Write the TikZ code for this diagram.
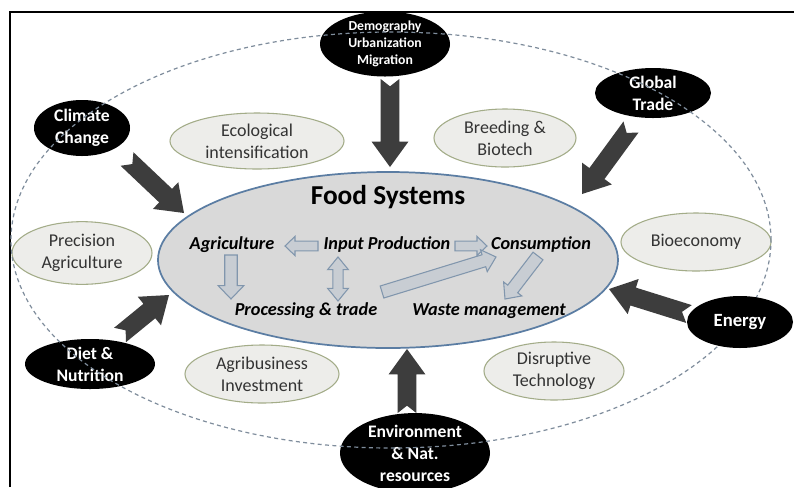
\documentclass[tikz,border=0pt]{standalone}
\usepackage{fontspec}
\setmainfont{Carlito}
\usetikzlibrary{shapes.geometric,calc}
\definecolor{ellborder}{HTML}{A3AC88}
\definecolor{ellfill}{HTML}{EDEDEA}
\definecolor{ellText}{HTML}{333333}
\definecolor{foodborder}{HTML}{5B7DA3}
\definecolor{foodfill}{HTML}{D9D9D9}
\definecolor{darkarrow}{HTML}{3D3D3D}
\definecolor{smallfill}{HTML}{C8CDD3}
\definecolor{smallborder}{HTML}{8196AD}
\definecolor{dashgrey}{HTML}{7F8D9C}
% block arrow: style, start, end, shaft half width, head half width, head length, notch depth
\newcommand\blockarr[7]{%
  \coordinate (ba-b) at ($(#3)!#6!(#2)$);
  \coordinate (ba-n) at ($(#2)!#7!(#3)$);
  \path[#1] ($(#2)!#4!90:(#3)$) -- ($(ba-b)!#4!90:(#3)$) -- ($(ba-b)!#5!90:(#3)$)
    -- (#3) -- ($(ba-b)!#5!-90:(#3)$) -- ($(ba-b)!#4!-90:(#3)$)
    -- ($(#2)!#4!-90:(#3)$) -- (ba-n) -- cycle;
}
% double-headed block arrow: style, A, B, shaft half width, head half width, head length
\newcommand\dblarr[6]{%
  \coordinate (da-a) at ($(#2)!#6!(#3)$);
  \coordinate (da-b) at ($(#3)!#6!(#2)$);
  \path[#1] (#2) -- ($(da-a)!#5!90:(#3)$) -- ($(da-a)!#4!90:(#3)$)
    -- ($(da-b)!#4!90:(#3)$) -- ($(da-b)!#5!90:(#3)$) -- (#3)
    -- ($(da-b)!#5!-90:(#3)$) -- ($(da-b)!#4!-90:(#3)$)
    -- ($(da-a)!#4!-90:(#3)$) -- ($(da-a)!#5!-90:(#3)$) -- cycle;
}
\begin{document}
\begin{tikzpicture}[x=0.75pt,y=-0.75pt,
  greyell/.style={ellipse, draw=ellborder, fill=ellfill, line width=0.8pt, inner sep=0pt,
    align=center, text=ellText, font=\fontsize{13.5}{16.5}\selectfont},
  blackell/.style={ellipse, fill=black, inner sep=0pt, align=center, text=white,
    font=\bfseries\fontsize{13.2}{16.5}\selectfont},
  foodell/.style={ellipse, draw=foodborder, fill=foodfill, line width=1.3pt, inner sep=0pt},
  innertext/.style={font=\bfseries\itshape\fontsize{13.7}{16}\selectfont, inner sep=0pt},
  bigarrow/.style={fill=darkarrow},
  smallarrow/.style={fill=smallfill, draw=smallborder, line width=0.8pt},
  outerdash/.style={draw=dashgrey, line width=0.9pt, dash pattern=on 3pt off 2.5pt},
]
\useasboundingbox[fill=white] (0,0) rectangle (794,487);
\draw[line width=1.1pt] (10,487) -- (10,12) -- (794,12);

% central ellipse
\node[foodell, minimum width=345pt, minimum height=132pt] (food) at (388,260) {};
\node[font=\bfseries\fontsize{20.5}{24}\selectfont, inner sep=0pt] (title) at (388,197) {Food Systems};
\node[innertext] (agr) at (232,245) {Agriculture};
\node[innertext] (inp) at (387,245) {Input Production};
\node[innertext] (con) at (541,245) {Consumption};
\node[innertext] (pro) at (306,311) {Processing \& trade};
\node[innertext] (was) at (489,311) {Waste management};

% small arrows inside
\coordinate (a1s) at (318,246); \coordinate (a1e) at (285,246);
\coordinate (a2s) at (455,246); \coordinate (a2e) at (487,246);
\coordinate (a3s) at (231,255); \coordinate (a3e) at (231,299);
\coordinate (a4s) at (338,257); \coordinate (a4e) at (338,301);
\coordinate (a5s) at (382,292); \coordinate (a5e) at (496,257);
\coordinate (a6s) at (538,256); \coordinate (a6e) at (505,299);
\blockarr{smallarrow}{a1s}{a1e}{3.6pt}{7.2pt}{7.5pt}{0pt}
\blockarr{smallarrow}{a2s}{a2e}{3.6pt}{7.2pt}{7.5pt}{0pt}
\blockarr{smallarrow}{a3s}{a3e}{4.7pt}{9.6pt}{10pt}{0pt}
\dblarr{smallarrow}{a4s}{a4e}{3.9pt}{7.8pt}{9.5pt}
\blockarr{smallarrow}{a5s}{a5e}{4.7pt}{8.6pt}{9.5pt}{0pt}
\blockarr{smallarrow}{a6s}{a6e}{4.7pt}{8.6pt}{9.5pt}{0pt}

% grey ellipses
\node[greyell, minimum width=130.5pt, minimum height=42pt] (eco) at (257,141) {Ecological\\intensification};
\node[greyell, minimum width=106.5pt, minimum height=43.5pt] (bre) at (505,138) {Breeding \&\\Biotech};
\node[greyell, minimum width=105pt, minimum height=47pt] (pre) at (82,253) {Precision\\Agriculture};
\node[greyell, minimum width=112.5pt, minimum height=43.5pt] (bio) at (696,242) {Bioeconomy};
\node[greyell, minimum width=115.5pt, minimum height=43.5pt] (agb) at (262,374) {Agribusiness\\Investment};
\node[greyell, minimum width=105pt, minimum height=43.5pt] (dis) at (554,371) {Disruptive\\Technology};

% black ellipses
\node[blackell, minimum width=97.5pt, minimum height=46.5pt,
  font=\bfseries\fontsize{10.3}{12.75}\selectfont] (dem) at (385,44) {Demography\\Urbanization\\Migration};
\node[blackell, minimum width=72pt, minimum height=42pt] (cli) at (82,128) {Climate\\Change};
\node[blackell, minimum width=87pt, minimum height=37.5pt] (glo) at (653,93) {Global\\Trade};
\node[blackell, minimum width=97.5pt, minimum height=37.5pt] (die) at (90,364) {Diet \&\\Nutrition};
\node[blackell, minimum width=112.5pt, minimum height=54pt] (env) at (415,453) {Environment\\\& Nat.\\resources};

% big arrows
\coordinate (demA) at (390,79);  \coordinate (demB) at (390,167);
\coordinate (cliA) at (127,159); \coordinate (cliB) at (184,213);
\coordinate (gloA) at (631,127); \coordinate (gloB) at (582,194);
\coordinate (dieA) at (120,335); \coordinate (dieB) at (169,295);
\coordinate (eneA) at (689,314); \coordinate (eneB) at (609,289);
\coordinate (envA) at (407,413); \coordinate (envB) at (407,349);
\foreach \a in {dem,cli,glo,die,ene,env}{
  \blockarr{bigarrow}{\a A}{\a B}{7pt}{13.8pt}{19pt}{5.5pt}
}

% outer dashed ellipse
\path[outerdash] (391,240) ellipse [x radius=285pt, y radius=156pt];

\node[blackell, minimum width=79.5pt, minimum height=39pt,
  font=\bfseries\fontsize{14}{16.5}\selectfont] (ene) at (740,322) {Energy};
\end{tikzpicture}
\end{document}
